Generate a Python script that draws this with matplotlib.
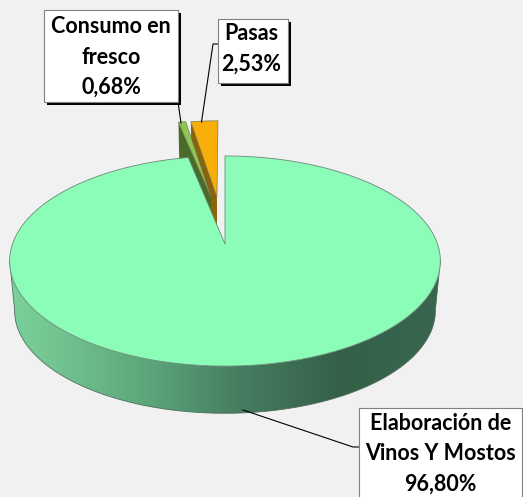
# pie with a fake 3d look, drawn by hand because matplotlib has no 3d pie
import numpy as np
import matplotlib
matplotlib.use("Agg")
import matplotlib.pyplot as plt
from matplotlib.patches import Polygon, Rectangle

#chart values
categories=["Elaboración de\nVinos Y Mostos","Consumo en\nfresco","Pasas"]
values=[96.80,0.68,2.53]
top_colors=["#8cfdb8","#8cc653","#f8ae08"]
cut_colors=["#4a7a5e","#4a6a28","#8a6208"]
#slices pulled out, in plane units
offsets=[(0.0,0.0),(-0.071,0.496),(-0.041,0.496)]

#projection of the pie plane to the picture
APEX_X=225
APEX_Y=244
A=212.5
B=102.3
K=0.162
DEPTH=50
SHRINK=0.977
BG="#f1f1f1"

def project(x,y):
    d=1+K*y
    return APEX_X+A*x/d, APEX_Y-B*y/d

def lower(px,py):
    return APEX_X+SHRINK*(px-APEX_X), APEX_Y+DEPTH+SHRINK*(py-APEX_Y)

def rim(deg,off=(0.0,0.0)):
    r=np.radians(deg)
    return project(np.sin(r)+off[0],np.cos(r)+off[1])

fig=plt.figure(figsize=(5.23,4.97),dpi=100,facecolor=BG)
ax=fig.add_axes([0,0,1,1])

#slice angles, clockwise from north
total=sum(values)
ends=np.cumsum(values)/total*360
starts=ends-np.array(values)/total*360

#pulled out slices first, the big one covers them
for i in [2,1]:
    off=offsets[i]
    tip=project(off[0],off[1])
    a0=rim(starts[i],off)
    tip_low=lower(*tip)
    a0_low=lower(*a0)
    ax.add_patch(Polygon([a0,a0_low,tip_low,tip],closed=True,fc=cut_colors[i],ec="none",zorder=2))
    angs=np.linspace(starts[i],ends[i],12)
    pts=[tip]+[rim(t,off) for t in angs]
    ax.add_patch(Polygon(pts,closed=True,fc=top_colors[i],ec="#7a7a5a",lw=0.5,zorder=3))

#side wall of the big slice, a left to right gradient clipped to its outline
xs=[15,70,150,240,340,440]
rr=[122,112,92,70,52,56]
gg=[208,192,165,125,96,102]
bb=[154,142,122,96,72,78]
px=np.arange(0,523)
grad=np.dstack([np.interp(px,xs,rr),np.interp(px,xs,gg),np.interp(px,xs,bb)]).astype(np.uint8)
im=ax.imshow(grad,extent=(0,523,497,0),aspect="auto",zorder=4,interpolation="bilinear")
#the wall runs between the two angles where the rim turns back
steps=np.arange(99,262,1.0)
top_edge=[rim(t) for t in steps]
low_edge=[lower(*rim(t)) for t in steps]
wall=Polygon(top_edge+low_edge[::-1],closed=True,fc="none",ec="none",transform=ax.transData)
ax.add_patch(wall)
im.set_clip_path(wall)
vis=[top_edge[0]]+low_edge+[top_edge[-1]]
ax.plot([p[0] for p in vis],[p[1] for p in vis],color="#4f6f5c",lw=0.6,zorder=5)

#top of the big slice
angs=np.linspace(starts[0],ends[0],400)
pts=[project(0,0)]+[rim(t) for t in angs]
ax.add_patch(Polygon(pts,closed=True,fc=top_colors[0],ec="#6a8a78",lw=0.6,zorder=6))

#leader lines
ax.plot([243,353,359],[410,447,447],color="black",lw=0.8,zorder=7)
ax.plot([178,181],[102,123],color="black",lw=0.8,zorder=7)
ax.plot([218,213,201.5],[44,44,122],color="black",lw=0.8,zorder=7)

#label boxes: left, top, right, bottom
boxes=[(359,408,522,510),(44,10,178,102),(218,19,288,83)]
text_y=[454,57,49]
for i in [0,1,2]:
    l,t,r,b=boxes[i]
    ax.add_patch(Rectangle((l+3,t+3),r-l,b-t,fc="black",ec="none",zorder=8))
    ax.add_patch(Rectangle((l,t),r-l,b-t,fc="white",ec="#808080",lw=0.8,zorder=9))
    label=categories[i]+"\n"+("%.2f%%"%values[i]).replace(".",",")
    ax.text((l+r)/2-(2 if i==2 else 0),text_y[i],label,ha="center",va="center",fontsize=15.5,fontweight="bold",
        family="Lato",color="black",linespacing=1.55,zorder=10)

ax.set_xlim(0,523)
ax.set_ylim(497,0)
ax.axis("off")
fig.savefig("out.png",dpi=100,facecolor=BG)
